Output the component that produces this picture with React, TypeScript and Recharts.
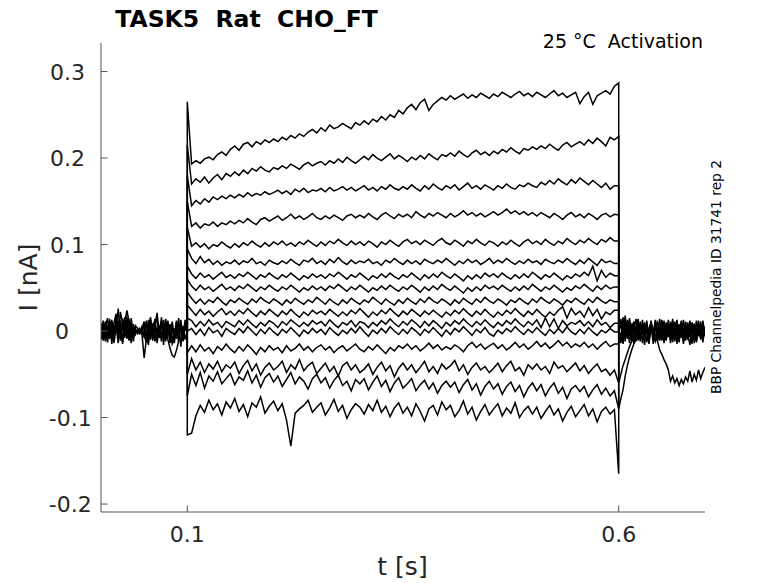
import React from 'react';
import { LineChart, Line, XAxis, YAxis } from 'recharts';

const TITLE = 'TASK5  Rat  CHO_FT';
const CONDITION = '25 °C  Activation';
const SOURCE = 'BBP Channelpedia ID 31741 rep 2';
const X_LABEL = 't [s]';
const Y_LABEL = 'I [nA]';
const X_TICKS = [0.1, 0.6];
const Y_TICKS = [-0.2, -0.1, 0, 0.1, 0.2, 0.3];
const X_DOMAIN: [number, number] = [0, 0.7];
const Y_DOMAIN: [number, number] = [-0.2092, 0.333];

// step protocol (s)
const STEP_ON = 0.1;
const STEP_OFF = 0.6;

// currents in pA, step region sampled every 5 ms from 0.105 s to 0.595 s
const step01 = [
  193, 197, 194, 199, 201, 198, 204, 207, 203, 210,
  214, 209, 216, 218, 213, 219, 216, 221, 218, 222,
  219, 224, 221, 226, 223, 228, 225, 230, 233, 229,
  235, 231, 238, 234, 236, 240, 237, 234, 241, 238,
  243, 239, 245, 242, 248, 244, 250, 247, 255, 251,
  258, 262, 256, 264, 268, 255, 262, 266, 270, 267,
  272, 268, 271, 274, 269, 273, 270, 275, 272, 269,
  274, 271, 276, 273, 270, 274, 277, 272, 275, 271,
  276, 273, 270, 274, 278, 272, 275, 270, 273, 276,
  263, 271, 276, 262, 272, 275, 278, 274, 283,
];
const step02 = [
  170, 176, 172, 178, 171, 177, 181, 175, 182, 179,
  184, 180, 186, 182, 188, 185, 190, 186, 184, 189,
  187, 191, 188, 193, 190, 187, 192, 195, 191, 194,
  196, 192, 197, 194, 199, 195, 201, 197, 194, 198,
  202, 198, 204, 200, 197, 201, 205, 199, 203, 200,
  196, 201, 198, 203, 199, 205, 201, 198, 204, 202,
  206, 202, 208, 204, 201, 206, 209, 204, 207, 203,
  208, 205, 210, 207, 212, 208, 205, 211, 209, 213,
  210, 214, 211, 216, 212, 209, 215, 218, 213, 216,
  219, 215, 221, 217, 223, 219, 214, 224, 221,
];
const step03 = [
  145, 151, 147, 153, 149, 155, 152, 156, 153, 157,
  154, 158, 155, 160, 156, 159, 157, 161, 158, 160,
  163, 159, 162, 158, 164, 161, 165, 160, 163, 162,
  165, 161, 166, 162, 164, 167, 163, 166, 162, 165,
  168, 163, 166, 162, 167, 164, 169, 165, 163, 167,
  164, 169, 165, 162, 168, 164, 170, 166, 163, 168,
  165, 169, 163, 167, 171, 165, 168, 164, 169, 166,
  163, 168, 165, 170, 166, 164, 169, 167, 171, 168,
  166, 172, 169, 174, 170, 176, 172, 169, 175, 171,
  177, 173, 169, 174, 170, 166, 171, 164, 168,
];
const step04 = [
  121, 125, 119, 124, 122, 126, 121, 125, 123, 127,
  124, 128, 125, 130, 126, 123, 129, 131, 127, 130,
  133, 128, 131, 135, 130, 133, 129, 132, 136, 131,
  129, 133, 130, 134, 131, 128, 133, 135, 131, 134,
  131, 136, 132, 129, 134, 137, 133, 130, 135, 132,
  135, 131, 138, 134, 131, 136, 133, 137, 134, 131,
  136, 132, 135, 139, 134, 137, 133, 136, 132, 135,
  138, 134, 137, 141, 136, 139, 135, 138, 134, 137,
  133, 137, 134, 131, 136, 133, 129, 134, 137, 132,
  135, 131, 136, 133, 129, 134, 136, 132, 135,
];
const step05 = [
  98, 102, 97, 101, 95, 100, 98, 103, 99, 96,
  101, 97, 102, 99, 104, 100, 97, 102, 98, 103,
  100, 104, 99, 102, 98, 103, 100, 105, 101, 98,
  103, 99, 104, 101, 106, 102, 99, 104, 100, 103,
  99, 104, 101, 97, 103, 100, 105, 101, 98, 103,
  106, 101, 104, 100, 105, 102, 99, 104, 107, 102,
  100, 105, 102, 98, 104, 101, 106, 102, 99, 104,
  102, 98, 103, 100, 105, 101, 98, 103, 106, 101,
  104, 100, 106, 102, 99, 104, 101, 107, 103, 100,
  105, 102, 107, 103, 100, 106, 103, 108, 104,
];
const step06 = [
  84, 78, 86, 79, 83, 77, 81, 76, 80, 78,
  82, 77, 81, 79, 84, 78, 80, 76, 82, 79,
  77, 81, 78, 83, 79, 76, 82, 80, 84, 78,
  81, 77, 83, 79, 85, 80, 77, 82, 78, 81,
  79, 83, 78, 80, 76, 82, 79, 84, 80, 77,
  82, 78, 81, 77, 83, 80, 78, 82, 79, 84,
  80, 76, 81, 78, 83, 79, 82, 77, 80, 84,
  78, 82, 79, 84, 80, 77, 81, 78, 83, 79,
  81, 77, 83, 80, 78, 82, 79, 84, 80, 77,
  82, 78, 84, 80, 76, 83, 79, 81, 78,
];
const step07 = [
  66, 61, 67, 62, 65, 60, 64, 68, 62, 65,
  61, 66, 63, 68, 64, 60, 65, 62, 67, 63,
  60, 65, 62, 67, 63, 59, 64, 61, 66, 62,
  65, 61, 66, 63, 68, 64, 60, 65, 62, 67,
  63, 59, 64, 61, 66, 62, 67, 63, 60, 65,
  62, 67, 63, 59, 65, 61, 66, 62, 68, 64,
  61, 66, 62, 58, 64, 60, 65, 61, 67, 63,
  66, 62, 67, 63, 60, 65, 61, 66, 62, 68,
  64, 60, 65, 62, 67, 63, 59, 64, 61, 66,
  63, 68, 64, 75, 58, 70, 62, 67, 64,
];
const step08 = [
  52, 47, 53, 48, 51, 46, 50, 54, 48, 51,
  47, 52, 49, 54, 50, 46, 51, 48, 53, 49,
  46, 51, 48, 53, 49, 45, 50, 47, 52, 48,
  51, 47, 52, 49, 54, 50, 46, 51, 48, 53,
  49, 45, 50, 47, 52, 48, 53, 49, 46, 51,
  48, 53, 49, 45, 51, 47, 52, 48, 54, 50,
  47, 52, 48, 44, 50, 46, 51, 47, 53, 49,
  52, 48, 53, 49, 46, 51, 47, 52, 48, 54,
  50, 46, 51, 48, 53, 49, 45, 50, 47, 52,
  49, 54, 50, 46, 52, 48, 53, 49, 51,
];
const step09 = [
  38, 32, 37, 31, 36, 33, 39, 34, 30, 36,
  33, 38, 34, 31, 37, 33, 39, 35, 32, 37,
  34, 30, 36, 32, 38, 34, 31, 36, 33, 39,
  35, 31, 37, 33, 30, 36, 32, 38, 34, 31,
  36, 33, 39, 35, 31, 37, 33, 30, 36, 32,
  38, 34, 31, 37, 33, 39, 35, 32, 37, 34,
  30, 36, 32, 38, 34, 31, 37, 33, 39, 35,
  32, 37, 34, 30, 36, 33, 38, 34, 31, 37,
  33, 39, 35, 32, 37, 34, 30, 36, 33, 38,
  34, 31, 37, 33, 39, 35, 32, 36, 34,
];
const step10 = [
  24, 18, 25, 19, 23, 17, 22, 26, 19, 23,
  18, 24, 20, 26, 21, 17, 23, 19, 25, 21,
  17, 23, 19, 25, 20, 16, 22, 18, 24, 20,
  23, 19, 25, 21, 17, 22, 18, 24, 20, 26,
  21, 16, 22, 18, 24, 20, 26, 21, 17, 23,
  19, 25, 21, 17, 23, 19, 24, 20, 16, 22,
  18, 24, 20, 26, 21, 17, 23, 19, 25, 20,
  16, 22, 18, 24, 20, 26, 21, 17, 23, 19,
  25, 20, 16, 22, 18, 24, 28, 15, 26, 19,
  23, 16, 27, 18, 25, 14, 22, 19, 24,
];
const step11 = [
  12, 5, 11, 6, 13, 7, 10, 4, 11, 8,
  5, 12, 7, 13, 8, 4, 10, 6, 12, 9,
  4, 11, 7, 13, 9, 5, 10, 6, 12, 8,
  11, 6, 13, 8, 4, 10, 7, 12, 5, 11,
  9, 4, 10, 6, 12, 8, 14, 9, 5, 11,
  7, 13, 9, 4, 11, 6, 12, 8, 3, 10,
  6, 12, 8, 14, 9, 5, 11, 7, 13, 8,
  4, 10, 6, 12, 8, 14, 9, 5, 11, 7,
  13, 4, 15, 5, 14, 3, 12, 6, 10, 8,
  12, 6, 11, 5, 13, 7, 10, 4, 9,
];
const step12 = [
  3, -4, 2, -5, 4, -2, 1, -6, 3, -1,
  -4, 3, -2, 5, 0, -5, 2, -3, 4, -1,
  -5, 2, -2, 4, -1, -6, 1, -3, 3, -2,
  2, -4, 4, -1, -5, 1, -3, 3, -2, 5,
  -1, -6, 1, -3, 3, -2, 5, 0, -4, 2,
  -3, 4, 0, -5, 2, -2, 4, -1, -6, 1,
  -4, 3, -1, 5, 0, -5, 2, -2, 4, -3,
  -6, 1, -3, 3, -1, 5, 0, -4, 2, -2,
  4, -1, -5, 2, -3, 3, -2, 5, -1, -4,
  2, -3, 4, -1, -5, 1, -2, 3, -1,
];
const step13 = [
  -17, -24, -16, -23, -19, -26, -18, -22, -15, -21,
  -25, -18, -23, -16, -21, -27, -19, -24, -17, -22,
  -19, -25, -17, -23, -20, -15, -22, -18, -24, -19,
  -16, -22, -18, -25, -20, -17, -23, -19, -15, -21,
  -24, -18, -22, -16, -21, -26, -19, -23, -17, -20,
  -15, -21, -17, -23, -19, -14, -20, -16, -22, -18,
  -21, -16, -19, -24, -17, -13, -19, -15, -21, -17,
  -14, -20, -16, -22, -18, -13, -19, -15, -21, -17,
  -12, -18, -14, -20, -16, -11, -17, -13, -19, -15,
  -18, -13, -19, -15, -21, -16, -12, -18, -15,
];
const step14 = [
  -32, -45, -36, -48, -38, -44, -35, -47, -39, -43,
  -36, -49, -40, -34, -46, -38, -51, -42, -37, -45,
  -41, -35, -48, -39, -44, -33, -46, -40, -36, -49,
  -43, -37, -47, -41, -52, -40, -36, -45, -39, -48,
  -44, -38, -50, -42, -36, -46, -40, -53, -43, -37,
  -45, -39, -48, -42, -35, -47, -41, -49, -38, -44,
  -40, -34, -46, -39, -50, -42, -37, -45, -41, -48,
  -43, -37, -47, -40, -35, -46, -42, -51, -39, -44,
  -38, -45, -41, -49, -36, -43, -40, -47, -42, -37,
  -46, -40, -49, -43, -38, -47, -44, -51, -45,
];
const step15 = [
  -50, -63, -48, -66, -52, -58, -47, -61, -55, -49,
  -62, -53, -57, -46, -60, -51, -65, -54, -49, -59,
  -52, -64, -56, -48, -61, -53, -58, -67, -55, -50,
  -60, -54, -66, -57, -51, -63, -58, -69, -56, -61,
  -55, -68, -59, -52, -64, -57, -70, -60, -54, -66,
  -61, -55, -69, -62, -57, -67, -60, -72, -63, -58,
  -65, -59, -71, -62, -56, -68, -61, -74, -64, -58,
  -67, -61, -73, -64, -59, -70, -63, -76, -66, -60,
  -69, -62, -75, -66, -60, -72, -65, -78, -67, -63,
  -70, -64, -76, -68, -62, -73, -66, -75, -69,
];
const step16 = [
  -118, -98, -86, -94, -80, -91, -84, -97, -82, -89,
  -78, -93, -85, -99, -83, -88, -76, -95, -87, -81,
  -92, -84, -103, -133, -95, -90, -86, -80, -94, -88,
  -83, -97, -89, -79, -93, -86, -101, -91, -84, -88,
  -96, -85, -92, -80, -94, -87, -99, -89, -83, -95,
  -88, -98, -84, -93, -104, -90, -86, -97, -82, -91,
  -86, -99, -92, -81, -96, -88, -103, -93, -85, -97,
  -90, -84, -98, -89, -95, -83, -100, -92, -87, -96,
  -88, -101, -93, -86, -97, -90, -104, -94, -87, -99,
  -92, -85, -98, -90, -105, -93, -88, -96, -91,
];
// capacitive transients at step onset / offset (pA)
const onsetPeaks = [265, 215, 180, 150, 120, 95, 75, 60, 45, 30, 15, 0, -25, -50, -75, -120];
const offsetPeaks = [287, 225, 168, 134, 104, 78, 64, 51, 34, 24, 9, -1, -15, -60, -90, -165];

// holding-current noise before the step, every 2.5 ms from 0 to 0.1 s (pA)
const pre01 = [2, -9, 11, -4, 14, -7, 9, 20, -5, 12, -10, 4, 17, -6, 9, -12, 6, 3, -2, 5, -8, 12, -4, 8, -11, 6, 15, -7, 10, -3, -12, 7, -5, 11, -9, 4, -13, 8, -6, 10, -3];
const pre02 = [-7, 8, -12, 5, -9, 13, -3, 6, -14, 22, 9, -8, 6, -11, 15, -4, 2, -3, 1, -2, -5, -13, 8, -10, 5, 12, -9, 4, -6, 13, -8, 3, -14, 9, -7, 12, -4, 7, -11, 5, 0];
const pre03 = [9, -5, 6, -13, 3, 10, -8, 18, -2, 7, -15, 10, 24, 11, -8, 5, 0, -2, 3, -4, -31, -10, 6, 16, -9, 7, 21, -5, 9, -4, 6, -10, -20, -28, -30, -22, -12, 13, -7, 4, -2];
const pre04 = [-4, 12, -8, 7, -6, 10, -14, 4, 26, -9, 14, -6, 11, -10, 4, -7, 1, -1, 2, 0, -3, 9, -11, 13, -6, 8, -14, 3, 11, -16, 14, -4, 8, -13, 3, -9, 15, -18, 6, -10, 1];
const pre05 = [6, -11, 3, 15, -8, 4, -10, 12, -5, 8, -13, 6, -3, 14, -9, 2, -4, 3, -1, -3, 7, -9, 13, -5, 9, -12, 4, -8, 16, -6, 10, -3, 7, -15, -9, 11, -5, 9, -12, 6, -1];
const pre06 = [-10, 4, 9, -6, 11, -15, 7, -2, 12, -11, 5, 16, -9, 3, -14, 8, -2, 1, -3, 2, 11, -6, -16, 10, -3, 14, -10, 6, -12, 8, -5, 12, -9, 4, -14, 7, -2, 10, -8, 13, 0];

// tail noise after the step, every 2.5 ms from 0.6 to 0.7 s (pA)
const post01 = [0, 14, -6, 18, -9, 8, -12, 6, -3, 11, -10, 5, -7, 9, -14, 4, -2, 12, -8, 6, -11, 9, -5, 13, -9, 3, -12, 8, -4, 10, -13, 6, -8, 11, -3, 7, -12, 9, -6, 12, -4];
const post02 = [0, -10, 16, -4, 9, -14, 3, 11, -8, 5, -12, 8, -3, 12, -9, 6, -15, 4, 10, -6, 8, -13, 5, -7, 11, -4, 9, -15, 6, -8, 4, -11, 10, -5, 8, -14, 4, -6, 11, -9, 2];
const post03 = [0, 8, -15, 6, -5, 12, -9, 2, 14, -11, 7, -4, 10, -13, 3, 9, -7, -12, 5, -10, 13, -2, -9, 7, -14, 10, -6, 4, -11, 12, -7, 9, -3, -16, 5, -9, 12, -4, 7, -13, 5];
const post04 = [0, -6, 10, -12, 13, -3, 7, -15, 6, -4, 11, -14, 2, 8, -6, 12, -10, 5, -4, 14, -8, 3, -11, 9, -2, -13, 11, -7, 8, -4, 13, -10, 5, -7, 10, -5, -10, 6, -8, 9, -6];
const post05 = [0, 11, -13, 9, -7, 15, -4, 10, -12, 6, -9, 13, -5, 7, -15, 11, -3, 8, -12, 4, -7, 12, -10, 6, -4, 14, -9, 3, -13, 7, -2, 11, -10, 6, -15, 9, -5, 12, -8, 4, -3];
const post06 = [0, -14, 6, -9, 12, -6, 9, -13, 4, 14, -8, 2, -16, 9, -5, 11, -8, 13, -3, -11, 6, -14, 10, -4, 8, -10, 2, 13, -6, 9, -15, 4, -9, 12, -3, 8, -13, 5, -10, 7, -5];

// tail recoveries, every 2.5 ms from 0.6 to 0.64 s (pA)
const tail01 = [-90, -78, -68, -52, -40, -30, -22, -15, -10, -7, -5, -3, -2, -1, -2, -1, 0];
const tail02 = [-60, -50, -40, -33, -25, -18, -12, -9, -6, -4, -3, -2, -1, -2, 0, -1, 0];
// late drift of one sweep, every 2.5 ms from 0.64 to 0.7 s (pA)
const drift01 = [-2, -4, -12, -22, -27, -33, -38, -45, -58, -52, -60, -55, -63, -56, -61, -53, -58, -46, -59, -50, -57, -45, -55, -48, -42];

const stepSweeps = [step01, step02, step03, step04, step05, step06, step07, step08, step09, step10, step11, step12, step13, step14, step15, step16];
const preSweeps = [pre01, pre02, pre03, pre04, pre05, pre06];
const postSweeps = [post01, post02, post03, post04, post05, post06];
const tailSweeps = [tail01, tail02];

// sampling clocks (s)
const clock = (t0: number, dt: number, n: number) =>
  Array.from({ length: n }, (_, k) => Math.round((t0 + dt * k) * 1e6) / 1e6);
const tStep = clock(0.105, 0.005, 99);
const tPre = clock(0, 0.0025, 41);
const tPost = clock(0.6, 0.0025, 41);
const tTail = clock(0.6, 0.0025, 17);
const tDrift = clock(0.64, 0.0025, 25);

type Pt = { t: number; v: number };
const toPts = (times: number[], vals: number[]): Pt[] =>
  vals
    .map((v, k) => ({ t: times[k], v: v / 1000 }))
    .filter((p) => p.t !== undefined);

const stepData = (vals: number[], i: number): Pt[] => [
  { t: STEP_ON, v: 0 },
  { t: STEP_ON, v: onsetPeaks[i] / 1000 },
  ...toPts(tStep, vals),
  { t: STEP_OFF, v: offsetPeaks[i] / 1000 },
  { t: STEP_OFF, v: 0 },
];

const AXIS = '#555555';
const TEXT = '#262626';
const FONT = '"DejaVu Sans", "Liberation Sans", sans-serif';
const W = 770;
const H = 575;

const YTick = (props: any) => {
  const { x, y, payload } = props;
  const v = payload.value as number;
  const end = v < 0 ? x - 9.3 : v === 0 ? x - 32 : x - 16;
  return (
    <g>
      <line x1={x} y1={y} x2={x + 6.5} y2={y} stroke={AXIS} strokeWidth={1} />
      <text x={end} y={y + 8} textAnchor="end" fontSize={22} fill={TEXT} fontFamily={FONT}>
        {String(v)}
      </text>
    </g>
  );
};

const XTick = (props: any) => {
  const { x, y, payload } = props;
  return (
    <g>
      <line x1={x} y1={y} x2={x} y2={y - 6.5} stroke={AXIS} strokeWidth={1} />
      <text x={x} y={y + 30.3} textAnchor="middle" fontSize={22} fill={TEXT} fontFamily={FONT}>
        {String(payload.value)}
      </text>
    </g>
  );
};

const lineProps = {
  type: 'linear' as const,
  dataKey: 'v',
  stroke: '#000000',
  strokeWidth: 1.5,
  dot: false,
  activeDot: false,
  isAnimationActive: false,
};

export default function App() {
  return (
    <div style={{ position: 'relative', width: W, height: H, background: '#fff' }}>
      <LineChart width={W} height={H} margin={{ top: 35, right: 73, bottom: 0, left: 0 }}>
        <XAxis
          type="number"
          dataKey="t"
          domain={X_DOMAIN}
          ticks={X_TICKS}
          allowDataOverflow
          height={71}
          tickSize={0}
          tickMargin={0}
          tickLine={false}
          axisLine={{ stroke: AXIS, strokeWidth: 1 }}
          tick={<XTick />}
          interval={0}
        />
        <YAxis
          type="number"
          dataKey="v"
          domain={Y_DOMAIN}
          ticks={Y_TICKS}
          allowDataOverflow
          width={93}
          tickSize={0}
          tickMargin={0}
          tickLine={false}
          axisLine={{ stroke: AXIS, strokeWidth: 1 }}
          tick={<YTick />}
          interval={0}
        />
        {preSweeps.map((s, i) => (
          <Line key={`pre${i}`} {...lineProps} data={toPts(tPre, s)} />
        ))}
        {postSweeps.map((s, i) => (
          <Line key={`post${i}`} {...lineProps} data={toPts(tPost, s)} />
        ))}
        {tailSweeps.map((s, i) => (
          <Line key={`tail${i}`} {...lineProps} data={toPts(tTail, s)} />
        ))}
        <Line key="drift" {...lineProps} data={toPts(tDrift, drift01)} />
        {stepSweeps.map((s, i) => (
          <Line key={`step${i}`} {...lineProps} data={stepData(s, i)} />
        ))}
      </LineChart>
      <svg
        width={W + 8}
        height={H + 8}
        style={{ position: 'absolute', left: -8, top: -8, pointerEvents: 'none', overflow: 'visible' }}
      >
        <text x={246.5} y={26.7} textAnchor="middle" fontSize={23.5} fontWeight="bold" fill="#000" fontFamily={FONT} style={{ whiteSpace: 'pre' }}>
          {TITLE}
        </text>
        <text x={703} y={47.7} textAnchor="end" fontSize={19} fill="#000" fontFamily={FONT} style={{ whiteSpace: 'pre' }}>
          {CONDITION}
        </text>
        <text transform="translate(721, 277) rotate(-90)" textAnchor="middle" fontSize={13.8} fill="#000" fontFamily={FONT}>
          {SOURCE}
        </text>
        <text transform="translate(36.7, 277.5) rotate(-90)" textAnchor="middle" fontSize={25} fill={TEXT} fontFamily={FONT}>
          {Y_LABEL}
        </text>
        <text x={402.5} y={574.7} textAnchor="middle" fontSize={25} fill={TEXT} fontFamily={FONT}>
          {X_LABEL}
        </text>
      </svg>
    </div>
  );
}
